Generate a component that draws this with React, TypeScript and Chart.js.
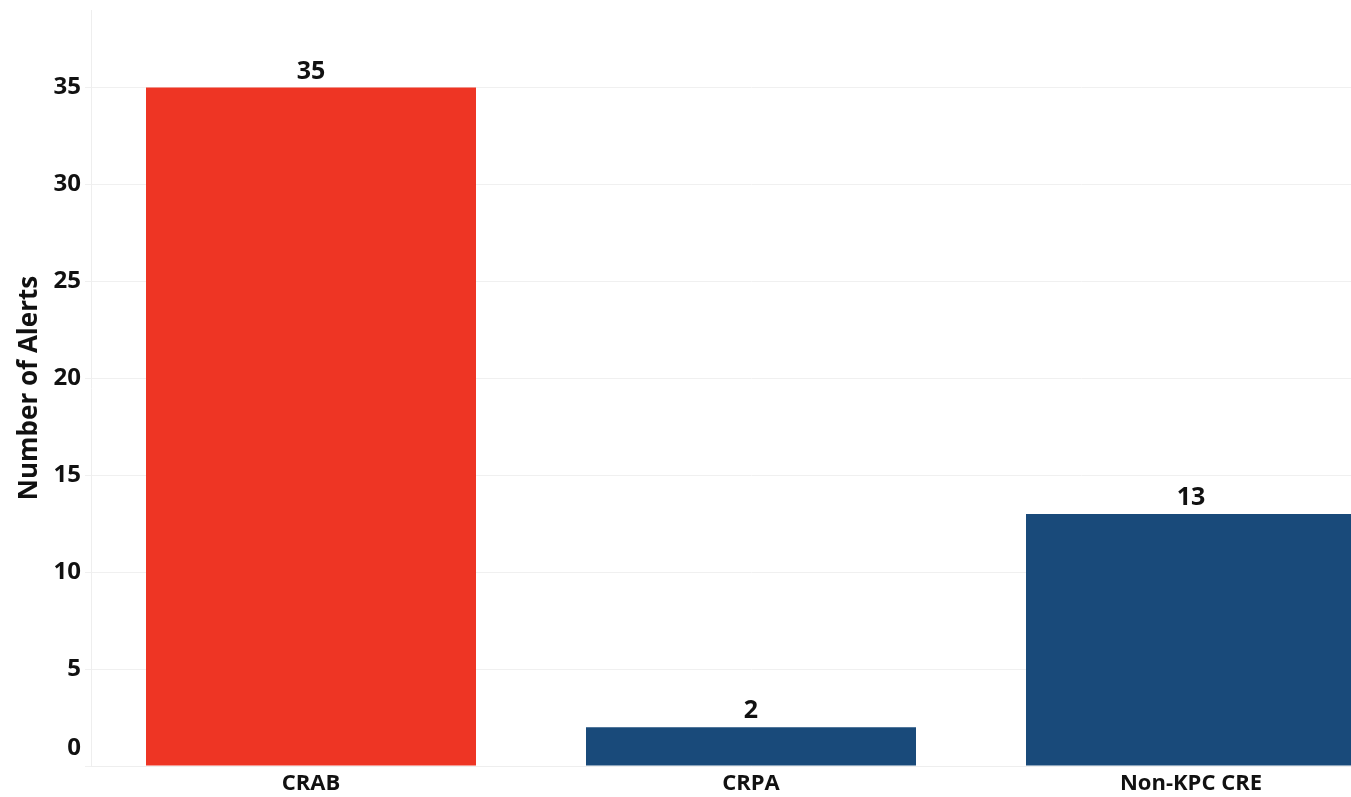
import React, { useEffect, useRef } from "react";
import { Chart, registerables } from "chart.js";

Chart.register(...registerables);

const categories = ["CRAB", "CRPA", "Non-KPC CRE"];
const alertCounts = [35, 2, 13];
const barColors = ["#EE3524", "#194A7A", "#194A7A"];
const yTicks = [0, 5, 10, 15, 20, 25, 30, 35];
const yMax = 39;

const FONT = "'Open Sans', 'Noto Sans', sans-serif";

const valueLabels = {
  id: "valueLabels",
  afterDatasetsDraw(chart: any) {
    const ctx = chart.ctx;
    const meta = chart.getDatasetMeta(0);
    ctx.save();
    ctx.font = `bold 25px ${FONT}`;
    ctx.fillStyle = "#111";
    ctx.textAlign = "center";
    ctx.textBaseline = "alphabetic";
    meta.data.forEach((bar: any, i: number) => {
      ctx.fillText(String(alertCounts[i]), bar.x, bar.y - 9);
    });
    // zero tick label sits above the baseline
    const y = chart.scales.y;
    ctx.font = `bold 24px ${FONT}`;
    ctx.textAlign = "right";
    ctx.textBaseline = "middle";
    ctx.fillText(String(yTicks[0]), y.right - 10, y.getPixelForValue(yTicks[0]) - 18);
    ctx.restore();
  },
};

export default function App() {
  const ref = useRef<HTMLCanvasElement | null>(null);
  useEffect(() => {
    if (!ref.current) return;
    const chart = new Chart(ref.current, {
      type: "bar",
      data: {
        labels: categories,
        datasets: [
          {
            data: alertCounts,
            backgroundColor: barColors,
            categoryPercentage: 1,
            barPercentage: 0.75,
          },
        ],
      },
      options: {
        responsive: false,
        animation: false,
        layout: { padding: { top: 10, right: 0, left: 0, bottom: 0 } },
        plugins: { legend: { display: false }, tooltip: { enabled: false } },
        scales: {
          x: {
            grid: { display: false, drawTicks: false },
            border: { display: true, color: "#eeeeee" },
            ticks: {
              padding: 5,
              color: "#111",
              font: { family: FONT, size: 22, weight: "bold" },
            },
            afterFit(scale: any) {
              scale.height = 31;
              scale.paddingLeft = 0;
              scale.paddingRight = 0;
            },
          },
          y: {
            min: 0,
            max: yMax,
            afterBuildTicks(scale: any) {
              scale.ticks = yTicks.map((v) => ({ value: v }));
            },
            grid: {
              color: "#f0f0f0",
              tickLength: 6,
              drawTicks: true,
            },
            border: { display: true, color: "#eeeeee" },
            ticks: {
              padding: 4,
              color: "#111",
              font: { family: FONT, size: 24, weight: "bold" },
              callback: (v: any) => (v === 0 ? "" : String(v)),
            },
            title: {
              display: true,
              text: "Number of Alerts",
              color: "#111",
              font: { family: FONT, size: 26, weight: "bold" },
              padding: { top: 14, bottom: 0 },
            },
            afterFit(scale: any) {
              scale.width = 91;
              scale.paddingTop = 0;
              scale.paddingBottom = 0;
            },
          },
        },
      },
      plugins: [valueLabels],
    });
    return () => chart.destroy();
  }, []);
  return (
    <div
      style={{
        position: "fixed",
        left: 0,
        top: 0,
        width: 1351,
        height: 797,
        overflow: "hidden",
        background: "#fff",
      }}
    >
      <canvas ref={ref} width={1411} height={797} style={{ display: "block" }} />
    </div>
  );
}
